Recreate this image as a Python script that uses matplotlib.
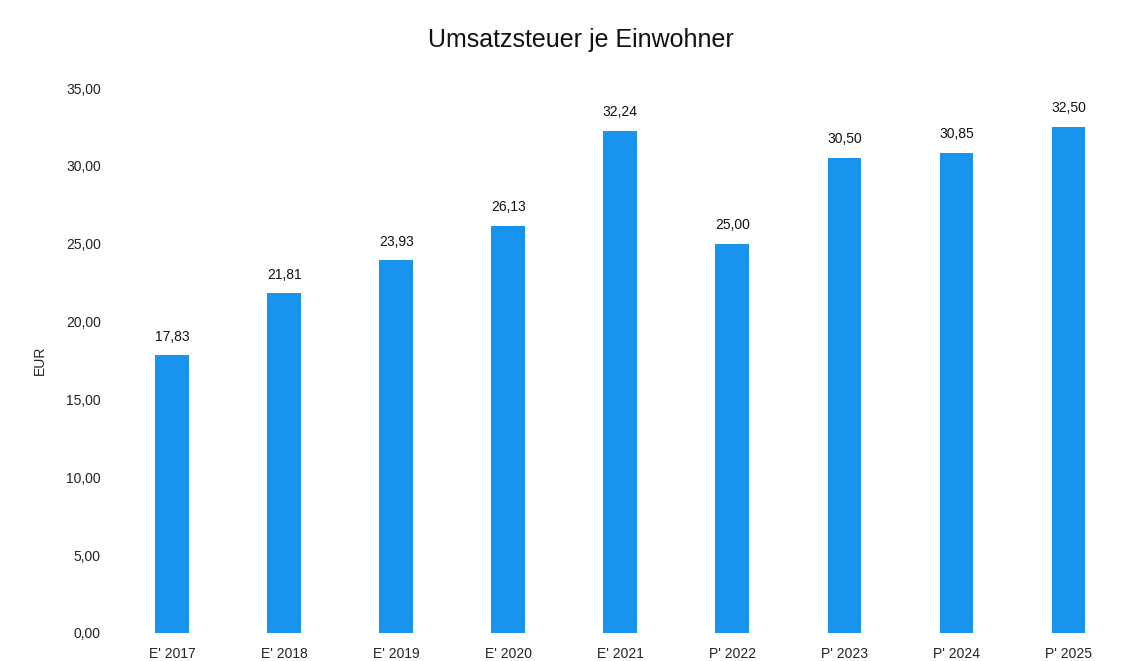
import matplotlib
matplotlib.use("Agg")
import matplotlib.pyplot as plt

categories = ["E' 2017", "E' 2018", "E' 2019", "E' 2020", "E' 2021", "P' 2022", "P' 2023", "P' 2024", "P' 2025"]
values = [17.83, 21.81, 23.93, 26.13, 32.24, 25.00, 30.50, 30.85, 32.50]
yticks = [0, 5, 10, 15, 20, 25, 30, 35]

plt.rcParams['font.family'] = ['Liberation Sans', 'DejaVu Sans']
fig = plt.figure(figsize=(11.21, 6.61), dpi=100)
ax = fig.add_axes([105/1121, 28/661, 1 - 105/1121, (633-88)/661])

x = list(range(len(categories)))
ax.bar(x, values, width=0.3, color='#1893ee')
for xi, v in zip(x, values):
    ax.text(xi, v + 0.75, f"{v:.2f}".replace('.', ','), ha='center', va='bottom', fontsize=10, color='#111111')

ax.set_xlim(-0.6, 8.47)
ax.set_ylim(0, 35)
ax.set_yticks(yticks)
ax.set_yticklabels([f"{t:.2f}".replace('.', ',') for t in yticks], fontsize=10, color='#222222')
ax.set_xticks(x)
ax.set_xticklabels(categories, fontsize=10, color='#222222')
ax.tick_params(axis='x', length=0, pad=10)
ax.tick_params(axis='y', length=0, pad=3)
for s in ax.spines.values():
    s.set_visible(False)
ax.set_ylabel("EUR", fontsize=10, color='#222222', labelpad=14)
fig.text(0.518, 0.94, "Umsatzsteuer je Einwohner", ha='center', va='center', fontsize=18, color='#111111')

fig.savefig("out.png", dpi=100)
